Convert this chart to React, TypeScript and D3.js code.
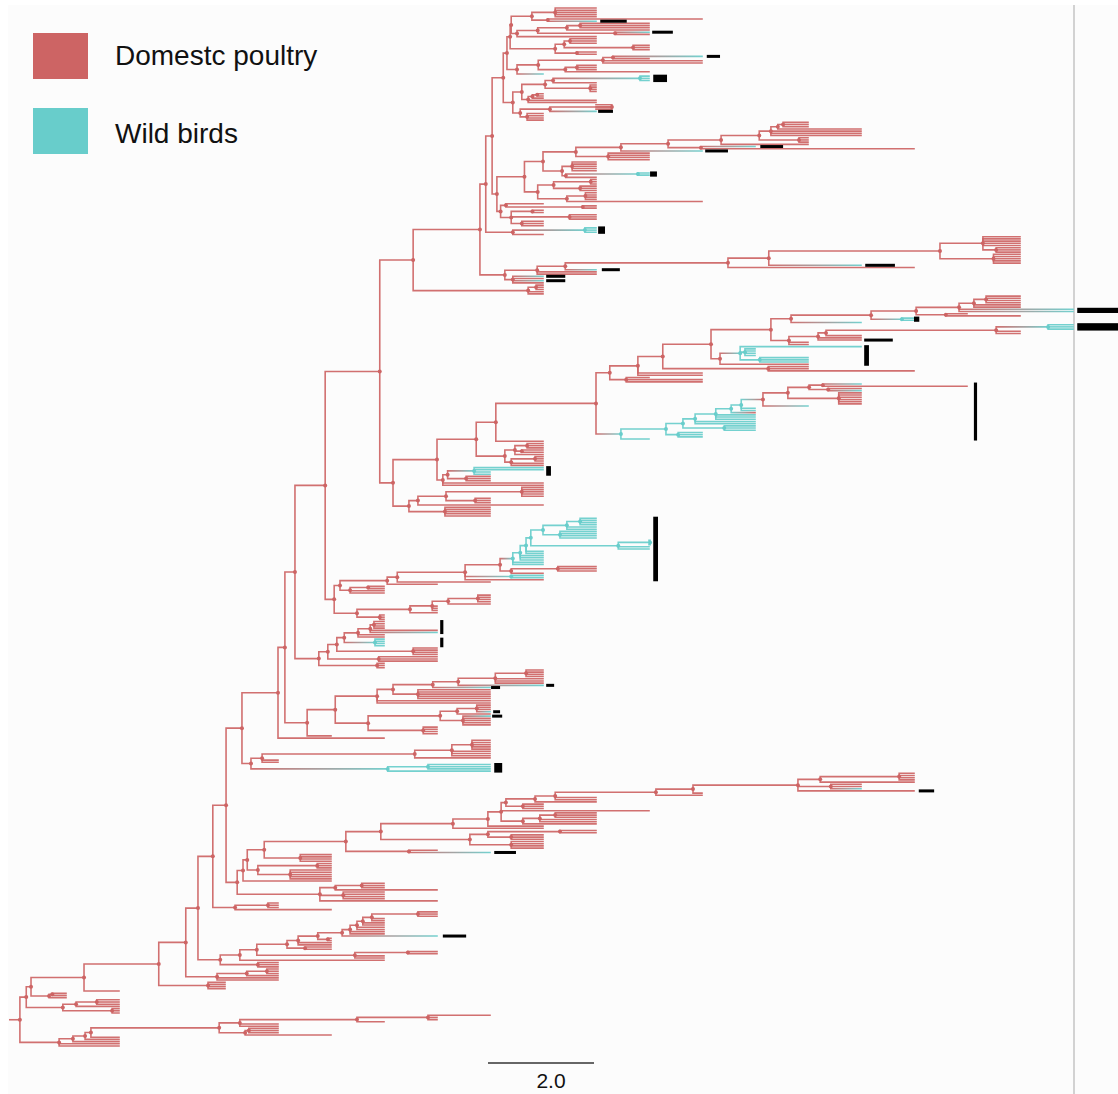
import React from "react";
import * as d3 from "d3";

// ---------------------------------------------------------------------------
// Tree data. Newick-like notation with absolute node times (years from the
// first sampling column):  "(child,child)T"  internal node at time T,
// "T" a tip sampled at time T, "T*n" n sibling tips, suffix "w" = wild-bird
// lineage, suffix "[a:b]" = clade bar drawn from time a to time b.
// ---------------------------------------------------------------------------

const legendLabels = ["Domestc poultry", "Wild birds"];
const scaleBarYears = 2.0;
const timeDomain = [0, 19];
const rootStubTime = -1.06;

// upper lineage
const topA = "(((10*5)9.23,(12,10w[10.08:10.58])9.09)8.79,((((11*3)9.7,11)9.45,(11w[11.06:11.45],11)10.36)8.9,10)8.51)8.4";
const topB = "(((10*3)9.51,(11*3)10.7)9.4,(10*2)9.64)9.23";
const topC = "((((12w[12.09:12.34],11)10.32,12*2)10.13,((10*3)9.64,11)9.42)8.91,9w)8.51";
const topD1 = "(((11w*3)10.83w[11.08:11.34],10)9.19,(10*4)9.89)9.04";
const topD2 = "(((9*2)8.89,9)8.8,10*2)8.72";
const topD3 = "(((10*3)10.3,10w[10.04:10.32])9.13,(9*4)8.7)8.57";
const longTop = "(((((((14*3)13.53,15)13.43,15*3)13.3,(14*3)13.83)13.08,14)12.36,(13w[13.1:13.53],16)11.98)11.36,12w[12.06:12.49])10.47";
const topE2 = "(((10*3)9.9,(10*3)9.7)9.2,((10*4)9.8,12)9.45)8.9";
const topE3 = "((9,(10*2)9.75)8.3,((9*2)8.8,(10*3)9.5,(9*3)8.6)8.4)8.2";
const topWild = "((10w*3)9.79w[10.04:10.17],9)8.43";
const longRight = "((((18*5,(18*3)17.55)17.3,(18*5)17.5)16.49,15w[15.08:15.64])13.26,16)12.49";

const cladeTopD = `(((${topA},${topB})8.38,${topC})8.32,((${topD1},${topD2})8.6,${topD3})8.43)8.25`;
const cladeTopE = `(((${longTop},(11*4)10.23)9.62,((10*5)9.55,((11w*2)10.79w[11.02:11.15],10)9.43)9.36)9.0,${topE2})8.65`;
const cladeTop = `((((${cladeTopD},(${cladeTopE},${topE3})8.13)8.04,${topWild})7.92,(((${longRight},10w[10.11:10.45])9.42,10*2)8.89,(9w[9.06:9.42],9,9w[9.06:9.42],9)8.43)8.28)7.81,((9*3)8.87,9*2)8.72)6.55`;

// right-hand lineage
const rightV5 = "(((18*4)17.36,18*2)17.13,19w*2[19.08:19.85])16.85";
const rightV2 = `(((${rightV5},(17,18)16.6)16.04,(16w*2)15.77w[16.0:16.1])15.19,15w)13.68`;
const rightV7 = "((((19w*3)18.53w[19.08:19.85],18*2)17.55,15)14.34,15,15[15.06:15.6])14.19";
const rightVc = "((15w,(13w*4)12.81w,(14w*3)13.09w)12.72w,14)12.34[15.06:15.15]";
const rightU = `(((((${rightV2},(${rightV7},14*2)13.64)13.3,${rightVc})12.17,(14*2,16)13.25)11.26,12*2)10.79,(11,12*2)10.57)10.26`;
const wildTop = "((((15w,17)14.28,(15,15w)14.38)14.02,(15*6)14.58)13.62,14w)13.15";
const wildClade = `(((((((${wildTop},13w*2)12.74w,13)12.55w,13w*3)12.26w,13w*2)11.87w,(13w*3)12.42w)11.64w,(12w*3)11.55w)11.32w,11w)10.47w[17.13:17.19]`;
const midB = "(((9*3)8.7,(9*2)8.6,9)8.47,((9*3)8.85,9*2)8.4)8.28";
const midC = "(((9w*2,8w*2)7.7w[9.06:9.15],(8*3)7.55)7.2,9*2)7.11";
const midD = "((((9*5)8.6,(8*3)7.72)7.17,9)6.64,(8*5)7.15)6.47";
const cladeMid = `(((((${rightU},${wildClade})10.0,9)8.11,${midB})7.74,${midC})7.0,${midD})6.17`;

// wild-bird cluster and neighbours
const cyanLadder = "(((((((10w*4)9.7w,10w*2)9.45w,(10w*4)9.32w)9.0w,((11w*3)11.02w,11w*2)10.42w)8.77w,9w*2)8.68w,9w*3)8.57w,9w*2)8.43w";
const cyanClade = `((${cyanLadder},((10*3)9.28,9)8.4)8.19,(9w*2)8.4w,9)7.53[11.08:11.17]`;
const cladeLowA = `(((${cyanClade},8)6.25,7)6.06,((6*2)5.7,6*2)5.36)5.17`;
const cladeLowB = "(((((8*4)7.77,8)7.21,7*3)6.91,7)6.49,(6*3)5.92)5.49";
const cladeLowC = "(((((((6*4)5.81,7,7w)5.74[7.06:7.12],6*2)5.51,(6w*4)5.83w[7.06:7.12])5.25,(7*4)6.55)5.11,(7*3)5.9)4.94,(6*3)5.87)4.77";
const cladeLowD1 = "((((((9*4)8.68,9*3)8.1,9w[9.06:9.21])7.4,8w[8.02:8.19])6.92,(8*5)6.64)6.17,8*2)5.87";
const cladeLowD2 = "((((8*3,8w[8.06:8.19])7.75,8)7.38,(8w[8.04:8.23],8*4)7.49)7.06,(7*4)6.74)5.7";
const cladeLowE = "(((((8*5)7.66,8*3)7.28,8)6.58,4*2)3.7,((8w*3)6.83w,8w)6.07w[8.08:8.23])3.49";

// long lineage to the lower right
const longLow = "(((16*4)15.72,16)14.23,(15*2,15w)14.43,16[16.09:16.38])13.81";
const cladeF1 = `((((((${longLow},12)11.83,12)11.13,10*2)9.23,10)8.85,(9*3)8.62)8.3,11,(((10*3)9.23,10*2)8.94,10)8.62)8.21`;
const cladeF = `((((${cladeF1},9)7.96,9)7.3,(((10*2)9.32,(9*3)8.4)7.96,(9*4)8.4)7.62)5.94,(7,8w[8.08:8.49])6.47)5.28`;
const cladeG = `(((${cladeF},(5*4)4.42)3.74,((5*3)4.74,(5*5)4.23)3.62)3.42,5)3.34`;
const cladeH = "(((6*3)5.58,7)5.08,(6*4)5.23,7)4.79";
const cladeI = "((((((((((((7*3)6.64,6*2)5.77,6*2)5.6,6*2)5.49,6*2)5.36,7w[7.11:7.55])5.21,(5*2)4.94)4.75,5*2)4.38,(5*2)4.51)4.17,((7*2)6.45,6*2)5.45)3.6,6)3.28,(4*3)3.62)2.91";
const cladeBase = "((((((((8,7*2)6.83,6)5.49,4*2)3.28,((4*3)3.45,5)3.38)2.89,1)0.47,1)0.36,1)0.13,1*2)-0.13";

const backbone15 = `((${cladeTop},${cladeMid})5.92,(${cladeLowA},${cladeLowB})5.06)4.89`;
const backbone13 = `((${backbone15},${cladeLowC})4.32,((${cladeLowD1},${cladeLowD2})5.08,5)4.55)4.13`;
const backbone10 = `(((${backbone13},6)4.0,${cladeLowE})3.32,(${cladeG},${cladeH})3.23)3.02`;
const backbone7 = `((((${backbone10},((4*3)3.81,5)3.19)2.77,${cladeI})2.49,(((4*3)3.79,4)3.41,4*2)2.85)2.26,(3*4)2.68)1.75`;
const treeSource = `((((${backbone7},1)0.34,((0*2)-0.26,0)-0.32)-0.66,(((1*3)0.58,1)0.19,(1*3)0.87)-0.06)-0.75,${cladeBase})-0.87`;

// ---------------------------------------------------------------------------

type TNode = { t: number; wild: boolean; children: TNode[] };
type Bar = { a: number; b: number; leaves: TNode[] };

function parseTree(src: string) {
  const s = src.replace(/\s+/g, "");
  let i = 0;
  const bars: Bar[] = [];
  const num = () => {
    const m = /^-?\d+(\.\d+)?/.exec(s.slice(i));
    if (!m) throw new Error("number expected at " + i + ": " + s.slice(i, i + 30));
    i += m[0].length;
    return parseFloat(m[0]);
  };
  const wildFlag = () => {
    if (s[i] === "w") { i++; return true; }
    return false;
  };
  const barSpec = () => {
    if (s[i] !== "[") return null;
    i++;
    const a = num();
    i++;
    const b = num();
    i++;
    return [a, b];
  };
  const tipsOf = (n: TNode, out: TNode[] = []) => {
    if (!n.children.length) out.push(n);
    else n.children.forEach(c => tipsOf(c, out));
    return out;
  };
  const item = (): TNode[] => {
    if (s[i] === "(") {
      i++;
      const children: TNode[] = [];
      for (;;) {
        children.push(...item());
        if (s[i] === ",") { i++; continue; }
        if (s[i] === ")") { i++; break; }
        throw new Error("bad token at " + i + ": " + s.slice(i, i + 30));
      }
      const t = num();
      const wild = wildFlag();
      const node: TNode = { t, wild, children };
      const bar = barSpec();
      if (bar) bars.push({ a: bar[0], b: bar[1], leaves: tipsOf(node) });
      return [node];
    }
    const t = num();
    const wild = wildFlag();
    let count = 1;
    if (s[i] === "*") { i++; count = num(); }
    const group: TNode[] = d3.range(count).map(() => ({ t, wild, children: [] }));
    const bar = barSpec();
    if (bar) bars.push({ a: bar[0], b: bar[1], leaves: group });
    return group;
  };
  const root = item()[0];
  return { root, bars };
}

const RED = "#cd6464";
const CYAN = "#68cdcb";
const GREY = "#9c9c9c";

export default function App() {
  const { root, bars } = React.useMemo(() => parseTree(treeSource), []);

  const x = d3.scaleLinear().domain(timeDomain).range([66, 1073]);
  const h = d3.hierarchy<TNode>(root, d => (d.children.length ? d.children : null));
  const leaves = h.leaves();
  const y = d3.scaleLinear().domain([0, leaves.length - 1]).range([8, 1046]);
  const yOf = new Map<TNode, number>();
  leaves.forEach((l, k) => yOf.set(l.data, y(k)));
  h.eachAfter(n => {
    if (n.children) {
      const first = yOf.get(n.children[0].data)!;
      const last = yOf.get(n.children[n.children.length - 1].data)!;
      yOf.set(n.data, (first + last) / 2);
    }
  });

  const colorOf = (n: TNode) => (n.wild ? CYAN : RED);
  const links = h.links();
  const gradients: { id: string; x1: number; x2: number; from: string; to: string }[] = [];
  const paths = links.map((l, k) => {
    const p = l.source.data;
    const c = l.target.data;
    const px = x(p.t);
    const py = yOf.get(p)!;
    const cx = x(c.t);
    const cy = yOf.get(c)!;
    let stroke = colorOf(c);
    if (p.wild !== c.wild) {
      const id = "grad" + k;
      gradients.push({ id, x1: px, x2: cx, from: colorOf(p), to: colorOf(c) });
      stroke = `url(#${id})`;
    }
    return { d: `M${px},${py}V${cy}H${cx}`, stroke, key: k };
  });

  const internal = h.descendants().filter(n => n.children);
  const rootY = yOf.get(root)!;
  const sbX0 = 488;
  const sbX1 = sbX0 + (x(scaleBarYears) - x(0));

  return (
    <svg
      width={1118}
      height={1094}
      style={{ position: "absolute", left: 0, top: 0, background: "#ffffff" }}
      fontFamily="'Liberation Sans', Arial, sans-serif"
    >
      <defs>
        {gradients.map(g => (
          <linearGradient key={g.id} id={g.id} gradientUnits="userSpaceOnUse" x1={g.x1} x2={g.x2} y1={0} y2={0}>
            <stop offset="0" stopColor={g.from} />
            <stop offset="0.55" stopColor={GREY} />
            <stop offset="1" stopColor={g.to} />
          </linearGradient>
        ))}
      </defs>
      <rect x={8} y={5} width={1110} height={1089} fill="#fcfcfc" />
      <line x1={1074} x2={1074} y1={5} y2={1094} stroke="#c4c4c4" strokeWidth={1.5} />

      <g fill="none" strokeWidth={1.6} strokeLinecap="square" strokeOpacity={0.92}>
        <line x1={x(rootStubTime)} x2={x(root.t)} y1={rootY} y2={rootY} stroke={RED} />
        {paths.map(p => (
          <path key={p.key} d={p.d} stroke={p.stroke} />
        ))}
      </g>
      <g>
        {internal.map((n, k) => (
          <circle key={k} cx={x(n.data.t)} cy={yOf.get(n.data)!} r={2} fill={colorOf(n.data)} />
        ))}
      </g>
      <g fill="#000">
        {bars.map((b, k) => {
          const ys = b.leaves.map(l => yOf.get(l)!);
          const y0 = Math.min(...ys) - 1.5;
          const y1 = Math.max(...ys) + 1.5;
          return <rect key={k} x={x(b.a)} y={y0} width={x(b.b) - x(b.a)} height={y1 - y0} />;
        })}
      </g>

      <g>
        {legendLabels.map((label, k) => (
          <g key={label}>
            <rect x={33} y={33 + k * 75} width={55} height={46} fill={k === 0 ? RED : CYAN} />
            <text x={115} y={65 + k * 78} fontSize={28} fill="#111">{label}</text>
          </g>
        ))}
      </g>

      <line x1={sbX0} x2={sbX1} y1={1063} y2={1063} stroke="#666" strokeWidth={2} />
      <text x={sbX0 + 63} y={1088} fontSize={21} textAnchor="middle" fill="#111">
        {scaleBarYears.toFixed(1)}
      </text>
    </svg>
  );
}
